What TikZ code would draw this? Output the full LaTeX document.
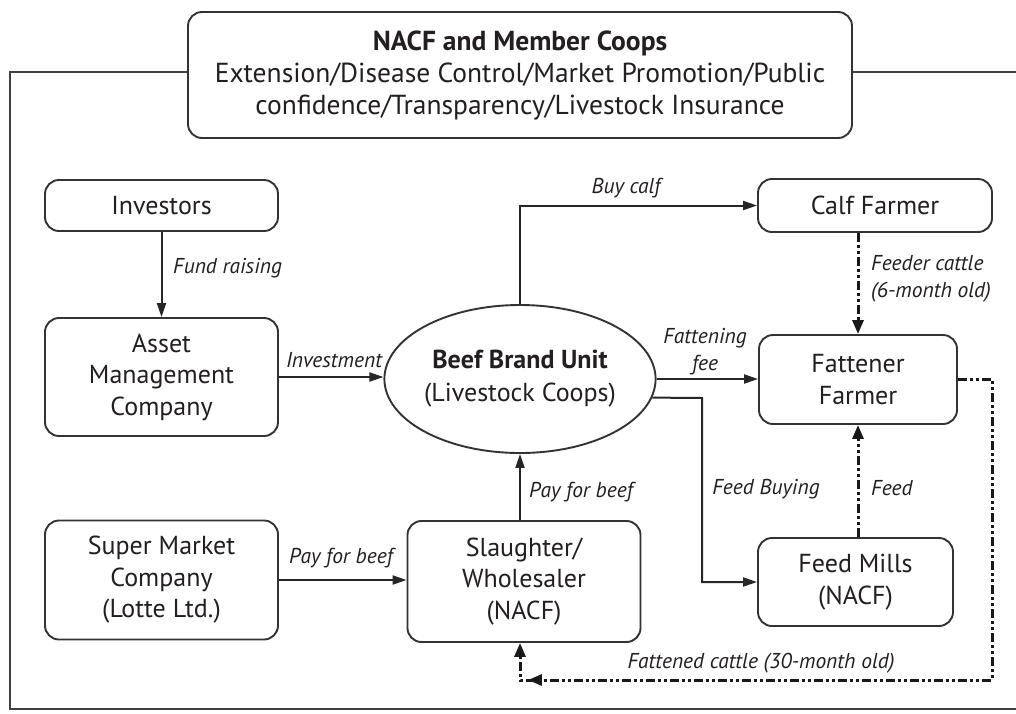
\documentclass[tikz,border=0pt]{standalone}
\usepackage{fontspec}
\setmainfont{PT Sans}
\usetikzlibrary{arrows.meta,shapes.geometric,decorations.markings,calc}
\definecolor{txt}{HTML}{231F20}
\begin{document}
\begin{tikzpicture}[x=1pt,y=-1pt,
  box/.style={draw=black!80,line width=1.9pt,rounded corners=14pt,fill=white,align=center,text=txt,font=\fontsize{26}{31.5}\selectfont,inner sep=0pt},
  ell/.style={ellipse,draw=black!80,line width=1.9pt,fill=white,align=center,text=txt,font=\fontsize{26}{33}\selectfont,inner sep=0pt,minimum width=266pt,minimum height=148pt},
  lbl/.style={font=\fontsize{21.5}{27}\selectfont\itshape,text=txt,inner sep=0pt},
  conn/.style={line width=2pt,draw=black!85,-{Triangle[length=14pt,width=9pt]}},
  dd/.style={line width=3pt,draw=black!90,dash pattern=on 9pt off 3pt on 3pt off 3pt on 3pt off 3pt,-{Triangle[length=14pt,width=11pt]}},
  midtip/.style={postaction={decorate},decoration={markings,mark=at position -45pt with {\arrow{Triangle[length=14pt,width=11pt]}}}}
]
\useasboundingbox (0,0) rectangle (1016,713);
% outer frame
\draw[line width=1.5pt,black!75] (1016,72) -- (10,72) -- (10,709) -- (1016,709);
% top box
\node[box,minimum width=664pt,minimum height=126pt,font=\fontsize{27.5}{32}\selectfont] (top) at (520,75)
  {\textbf{NACF and Member Coops}\\Extension/Disease Control/Market Promotion/Public\\confidence/Transparency/Livestock Insurance};
% nodes
\node[box,minimum width=233pt,minimum height=51pt] (inv) at (161.5,205.5) {Investors};
\node[box,minimum width=233pt,minimum height=118pt] (am) at (161.5,377) {Asset\\Management\\Company};
\node[box,minimum width=233pt,minimum height=119pt] (sm) at (161.5,580) {Super Market\\Company\\(Lotte Ltd.)};
\node[ell] (bbu) at (520,379) {\textbf{Beef Brand Unit}\\(Livestock Coops)};
\node[box,minimum width=233pt,minimum height=121pt] (sl) at (524,581.5) {Slaughter/\\Wholesaler\\(NACF)};
\node[box,minimum width=234pt,minimum height=53pt] (calf) at (875,205.5) {Calf Farmer};
\node[box,minimum width=198pt,minimum height=89pt] (fat) at (858,379.5) {Fattener\\Farmer};
\node[box,minimum width=195pt,minimum height=88pt] (fm) at (855.5,582) {Feed Mills\\(NACF)};
% helper coordinates
\coordinate (fb) at (702,398);
\coordinate (fc) at (992,680);
% connectors
\draw[conn] (inv) -- (am);
\draw[conn] (am.east) -- (bbu.west |- am.east);
\draw[conn] (sm.east) -- (sl.west |- sm.east);
\draw[conn] (bbu.south |- sl.north) -- (bbu.south);
\draw[conn] (bbu.north) |- (calf.west);
\draw[conn] (bbu.east) -- (bbu.east -| fat.west);
\draw[conn] (bbu.-8.4) -- (fb) |- (fm.west);
\draw[dd] (fat.north |- calf.south) -- (fat.north);
\draw[dd] (fat.south |- fm.north) -- (fat.south);
\draw[dd,midtip] (fat.east) -| (fc) -| (bbu.south |- sl.south);
% labels
\node[lbl,anchor=west] (l1) at (173,268) {Fund raising};
\node[lbl] (l2) at (334,360) {Investment};
\node[lbl] (l3) at (341,558) {Pay for beef};
\node[lbl] (l4) at (581,492) {Pay for beef};
\node[lbl] (l5) at (626,188) {Buy calf};
\node[lbl,align=center] (l6) at (705,352) {Fattening\\fee};
\node[lbl] (l7) at (766,489) {Feed Buying};
\node[lbl,align=left,anchor=west] (l8) at (871,279) {Feeder cattle\\(6-month old)};
\node[lbl,anchor=west] (l9) at (871,488) {Feed};
\node[lbl] (l10) at (761,663) {Fattened cattle (30-month old)};
\end{tikzpicture}
\end{document}
